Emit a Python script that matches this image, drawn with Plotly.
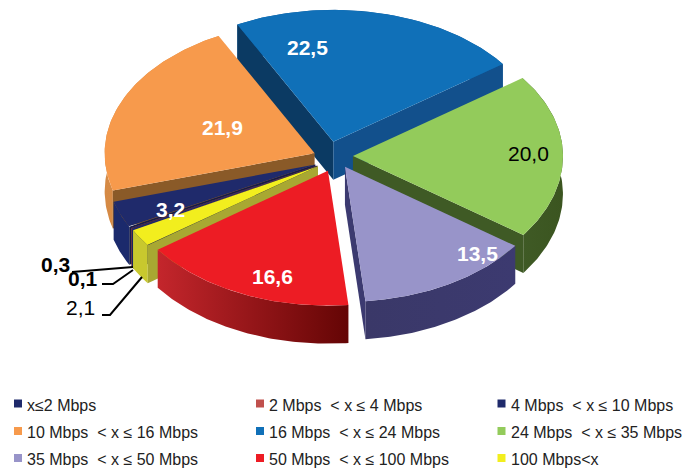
import numpy as np
import plotly.graph_objects as go

CATEGORIES = ["x≤2 Mbps", "2 Mbps  < x ≤ 4 Mbps", "4 Mbps  < x ≤ 10 Mbps",
              "10 Mbps  < x ≤ 16 Mbps", "16 Mbps  < x ≤ 24 Mbps", "24 Mbps  < x ≤ 35 Mbps",
              "35 Mbps  < x ≤ 50 Mbps", "50 Mbps  < x ≤ 100 Mbps", "100 Mbps<x"]
SHARES = [0.3, 0.1, 3.2, 21.9, 22.5, 20.0, 13.5, 16.6, 2.1]

# style per slice: top, first wall, second wall, rim left, rim right
TOPS = ["#1f2a6b", "#c0504d", "#1f2a6b", "#f79a4c", "#1070b8", "#93cb5b", "#9894c9", "#ed1c24", "#f2ee1e"]
WALLS_A = ["#141c4a", "#8a3a38", "#141c4a", "#8a5a28", "#0b3a63", "#3f5a25", "#3c3a70", "#a01820", "#a8a832"]
WALLS_B = ["#141c4a", "#8a3a38", "#141c4a", "#8a5a28", "#12508c", "#3f5a25", "#3c3a70", "#a01820", "#a8a832"]
RIM_L = ["#1b2560", "#a04644", "#1b2a6c", "#d58a45", "#0f5b9c", "#3f5a25", "#3a3868", "#c4262c", "#c8c82e"]
RIM_R = ["#1b2560", "#a04644", "#1b2a6c", "#e08f48", "#0f5b9c", "#3b5520", "#3c3a70", "#640505", "#c8c82e"]
EXPLODE = [0.09, 0.09, 0.09, 0.09, 0.11, 0.095, 0.095, 0.105, 0.09]
NUDGE_X = [2, 2, 1, 0, -4, 1, 3, 5, 2]
NUDGE_Y = [3, 3, 3, 1, -1, -1, -1, 1, 3]
DRAW_ORDER = [4, 3, 5, 2, 1, 0, 8, 6, 7]

# label placement in page pixels: x, y, colour, bold
LABEL_POS = [(55, 264, "black", True), (83, 278, "black", True), (170, 209, "white", True),
             (222, 127, "white", True), (307, 47, "white", True), (528, 153, "black", False),
             (477, 253, "white", True), (272, 276, "white", True), (80, 307, "black", False)]
LEADERS = ["M72,272 L133,267", "M102,284 L113,284 L133,270", "M102,315 L110,315 L142,277"]
LEGEND_X = [18, 260, 501.5]
LEGEND_Y = [403.5, 431, 458]

CX, CY = 332, 157
RX = 210
RY_BACK, RY_FRONT = 132, 135
DEPTH = 38
START = 241.0
FONT = "Liberation Sans, Arial, sans-serif"
PAGE_GAP = 8  # the page body keeps its 8px margin


def poly(fig, xs, ys, color=None, grad=None):
    t = dict(x=xs, y=ys, mode="lines", line=dict(width=0), fill="toself",
             hoverinfo="skip", showlegend=False)
    if grad:
        t["fillgradient"] = dict(type="horizontal", colorscale=[[0, grad[0]], [1, grad[1]]])
    else:
        t["fillcolor"] = color
    fig.add_trace(go.Scatter(**t))


fig = go.Figure()

edges = START + np.cumsum([0] + SHARES) * 3.6
for i in DRAW_ORDER:
    a0, a1 = np.radians(edges[i]), np.radians(edges[i + 1])
    mid = (a0 + a1) / 2
    ax = CX + EXPLODE[i] * RX * np.sin(mid) + NUDGE_X[i]
    ay = CY - EXPLODE[i] * RY_BACK * np.cos(mid) + NUDGE_Y[i]
    th = np.linspace(a0, a1, 80)
    px = ax + RX * np.sin(th)
    # the front half of the disc looks a little deeper than the back
    py = ay - np.where(np.cos(th) > 0, RY_BACK, RY_FRONT) * np.cos(th)

    # rim, the walls that face the viewer, then the top face over them
    poly(fig, list(px) + list(px[::-1]) + [px[0]], list(py) + list(py[::-1] + DEPTH) + [py[0]],
         grad=(RIM_L[i], RIM_R[i]))
    if np.sin(a0) < 0:
        poly(fig, [ax, px[0], px[0], ax, ax], [ay, py[0], py[0] + DEPTH, ay + DEPTH, ay], WALLS_A[i])
    if np.sin(a1) > 0:
        poly(fig, [ax, px[-1], px[-1], ax, ax], [ay, py[-1], py[-1] + DEPTH, ay + DEPTH, ay], WALLS_B[i])
    poly(fig, [ax] + list(px) + [ax], [ay] + list(py) + [ay], TOPS[i])

annotations = []

# legend squares and text on a 3 x 3 grid
for i, name in enumerate(CATEGORIES):
    fig.add_trace(go.Scatter(x=[LEGEND_X[i % 3]], y=[LEGEND_Y[i // 3]], mode="markers",
                             marker=dict(symbol="square", size=8, color=TOPS[i]),
                             hoverinfo="skip", showlegend=False))
    annotations.append(dict(x=LEGEND_X[i % 3] + 7, y=LEGEND_Y[i // 3] + 1.5, xref="x", yref="y",
                            xanchor="left", showarrow=False, text=name,
                            font=dict(family=FONT, size=16, color="#222222")))

for v, (x, y, color, bold) in zip(SHARES, LABEL_POS):
    txt = f"{v:.1f}".replace(".", ",")
    annotations.append(dict(x=x, y=y, xref="x", yref="y", showarrow=False,
                            text=f"<b>{txt}</b>" if bold else txt,
                            font=dict(family=FONT, size=21, color=color)))

fig.update_layout(
    width=690 - PAGE_GAP, height=474 - PAGE_GAP, margin=dict(l=0, r=0, t=0, b=0),
    paper_bgcolor="white", plot_bgcolor="white", showlegend=False,
    xaxis=dict(range=[PAGE_GAP, 690], visible=False),
    yaxis=dict(range=[474, PAGE_GAP], visible=False),
    annotations=annotations,
    shapes=[dict(type="path", path=p, xref="x", yref="y", line=dict(color="black", width=2)) for p in LEADERS],
)

fig.write_html("out.html")
